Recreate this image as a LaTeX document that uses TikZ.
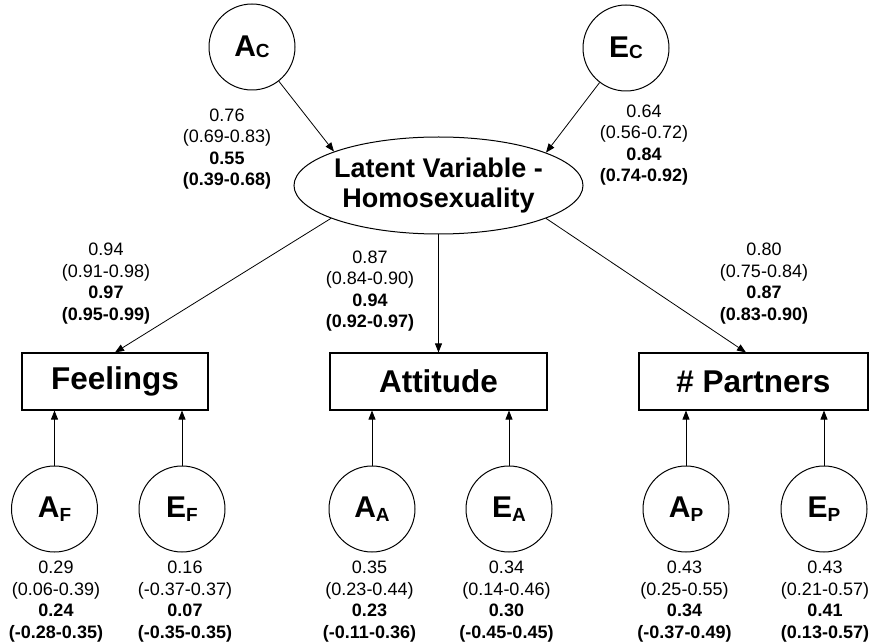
\documentclass[tikz,border=0pt]{standalone}
\usepackage{fontspec}
\setmainfont{Liberation Sans}
\usetikzlibrary{arrows.meta,shapes.geometric}
\newcommand{\latlab}[3]{{\fontsize{30}{30}\selectfont\bfseries #1\raisebox{#3}{\fontsize{19}{19}\selectfont #2}}}
\begin{document}
\begin{tikzpicture}[x=1pt,y=-1pt,
  lat/.style={circle,draw,line width=1pt,minimum size=86pt,inner sep=0pt},
  obs/.style={rectangle,draw,line width=1.1pt,minimum height=57pt,inner sep=0pt,
    font=\fontsize{31.5}{31.5}\selectfont\bfseries},
  num/.style={align=center,inner sep=0pt,font=\fontsize{18}{21.5}\selectfont},
  arr/.style={line width=0.8pt,-{Triangle[length=9pt,width=7pt]}}]
\useasboundingbox (0,0) rectangle (875,644);
% latent factors at top
\node[lat] (AC) at (252,47) {\latlab{A}{C}{-1.5pt}};
\node[lat] (EC) at (626,48) {\latlab{E}{C}{-1.5pt}};
\node[ellipse,draw,line width=1pt,minimum width=289pt,minimum height=97pt,
  inner xsep=-4pt,inner ysep=0pt,align=center,
  font=\fontsize{27}{30}\selectfont\bfseries] (LV) at (438.5,185.5)
  {Latent Variable -\\Homosexuality};
% observed variables
\node[obs,minimum width=186pt] (Fe) at (115,381.5) {Feelings};
\node[obs,minimum width=217pt] (At) at (438.5,381.5) {Attitude};
\node[obs,minimum width=229pt] (Pa) at (753.5,381.5) {\# Partners};
% bottom latent factors
\node[lat] (AF) at (54.5,509) {\latlab{A}{F}{-4pt}};
\node[lat] (EF) at (182,509) {\latlab{E}{F}{-4pt}};
\node[lat] (AA) at (372,509) {\latlab{A}{A}{-4pt}};
\node[lat] (EA) at (509,509) {\latlab{E}{A}{-4pt}};
\node[lat] (AP) at (686,509) {\latlab{A}{P}{-4pt}};
\node[lat] (EP) at (824,509) {\latlab{E}{P}{-4pt}};
% connectors
\draw[arr] (AC) -- (LV.162);
\draw[arr] (EC) -- (LV.17.5);
\draw[arr] (LV.197) -- (Fe.north);
\draw[arr] (LV.south) -- (At.north);
\draw[arr] (LV.343) -- ([xshift=-7.5pt]Pa.north);
\draw[arr] (AF) -- (AF |- Fe.south);
\draw[arr] (EF) -- (EF |- Fe.south);
\draw[arr] (AA) -- (AA |- At.south);
\draw[arr] (EA) -- (EA |- At.south);
\draw[arr] (AP) -- (AP |- Pa.south);
\draw[arr] (EP) -- (EP |- Pa.south);
% labels
\node[num] (lAC) at (227,149) {0.76\\(0.69-0.83)\\\textbf{0.55}\\\textbf{(0.39-0.68)}};
\node[num] (lEC) at (644,145) {0.64\\(0.56-0.72)\\\textbf{0.84}\\\textbf{(0.74-0.92)}};
\node[num] (lFe) at (106,283.5) {0.94\\(0.91-0.98)\\\textbf{0.97}\\\textbf{(0.95-0.99)}};
\node[num] (lAt) at (370,291) {0.87\\(0.84-0.90)\\\textbf{0.94}\\\textbf{(0.92-0.97)}};
\node[num] (lPa) at (764,283.5) {0.80\\(0.75-0.84)\\\textbf{0.87}\\\textbf{(0.83-0.90)}};
\node[num] (lAF) at (56,601.5) {0.29\\(0.06-0.39)\\\textbf{0.24}\\\textbf{(-0.28-0.35)}};
\node[num] (lEF) at (185,601.5) {0.16\\(-0.37-0.37)\\\textbf{0.07}\\\textbf{(-0.35-0.35)}};
\node[num] (lAA) at (369.5,601.5) {0.35\\(0.23-0.44)\\\textbf{0.23}\\\textbf{(-0.11-0.36)}};
\node[num] (lEA) at (506.5,601.5) {0.34\\(0.14-0.46)\\\textbf{0.30}\\\textbf{(-0.45-0.45)}};
\node[num] (lAP) at (684.5,601.5) {0.43\\(0.25-0.55)\\\textbf{0.34}\\\textbf{(-0.37-0.49)}};
\node[num] (lEP) at (825,601.5) {0.43\\(0.21-0.57)\\\textbf{0.41}\\\textbf{(0.13-0.57)}};
\end{tikzpicture}
\end{document}
